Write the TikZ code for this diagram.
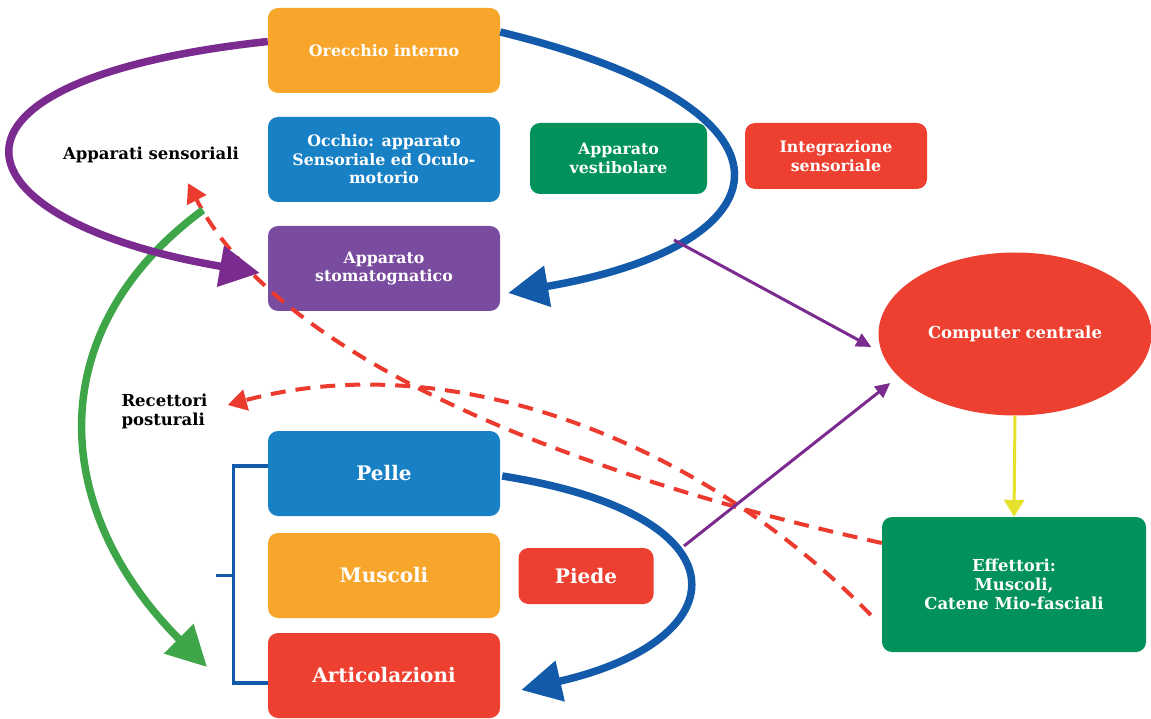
\documentclass[tikz,border=0pt]{standalone}
\usepackage{fontspec}
\setmainfont{DejaVu Serif}
\usetikzlibrary{arrows.meta,shapes.geometric}
\definecolor{cOrange}{HTML}{F8A62B}
\definecolor{cBlue}{HTML}{1880C5}
\definecolor{cPurpleBox}{HTML}{7A4C9F}
\definecolor{cGreen}{HTML}{00925A}
\definecolor{cRed}{HTML}{EE4031}
\definecolor{aPurple}{HTML}{7B2B8F}
\definecolor{aBlue}{HTML}{135BAA}
\definecolor{aGreen}{HTML}{3EA648}
\definecolor{aYellow}{HTML}{E6E22C}
\definecolor{aRed}{HTML}{EC3B2E}
\begin{document}
\begin{tikzpicture}[x=1pt,y=-1pt,
  box/.style={rounded corners=10pt, minimum width=232pt, minimum height=85pt, text=white, align=center, inner sep=0pt, font=\fontsize{15.8}{18.5}\selectfont\bfseries},
  bigbox/.style={box, font=\fontsize{20}{23}\selectfont\bfseries},
  lbl/.style={text=black, align=left, inner sep=0pt, font=\fontsize{16.5}{19}\selectfont\bfseries},
  thickarrow/.style={line width=7.5pt, -{Triangle[length=40pt,width=40pt]}},
  thinarrow/.style={line width=3pt, -{Triangle[length=15pt,width=14pt]}},
  dasharrow/.style={line width=4pt, dash pattern=on 15pt off 10pt, aRed, -{Triangle[length=19pt,width=21pt]}},
  bracketline/.style={line width=3.3pt, aBlue},
]
\useasboundingbox (0,0) rectangle (1151,719);
% nodes
\node[box, fill=cOrange] (ore) at (384,50.5) {Orecchio interno};
\node[box, fill=cBlue] (occ) at (384,159.5) {Occhio: apparato\\Sensoriale ed Oculo-\\motorio};
\node[box, fill=cPurpleBox] (sto) at (384,268.5) {Apparato\\stomatognatico};
\node[box, fill=cGreen, minimum width=177pt, minimum height=71pt] (ves) at (618.5,158.5) {Apparato\\vestibolare};
\node[box, fill=cRed, minimum width=182pt, minimum height=66pt] (int) at (836,156) {Integrazione\\sensoriale};
\node[ellipse, fill=cRed, minimum width=273pt, minimum height=163pt, inner sep=0pt, text=white, font=\fontsize{16.5}{19}\selectfont\bfseries] (cc) at (1015,334) {Computer centrale};
\node[box, fill=cGreen, minimum width=264pt, minimum height=135pt, font=\fontsize{16.5}{18.8}\selectfont\bfseries] (eff) at (1014,584.5) {Effettori:\\Muscoli,\\Catene Mio-fasciali};
\node[bigbox, fill=cBlue] (pel) at (384,473.5) {Pelle};
\node[bigbox, fill=cOrange] (mus) at (384,575.5) {Muscoli};
\node[bigbox, fill=cRed] (art) at (384,675.5) {Articolazioni};
\node[bigbox, fill=cRed, minimum width=135pt, minimum height=56pt] (pie) at (586,576) {Piede};
\node[lbl] (aps) at (151,155) {Apparati sensoriali};
\node[lbl] (rec) at (164.5,411) {Recettori\\posturali};
% coordinates
\coordinate (g0) at (203,210);
\coordinate (g1) at (207,667);
\coordinate (p1) at (674,240);
\coordinate (p2) at (684,546);
% dashed
\draw[dasharrow] ([yshift=41.5pt]eff.west) .. controls (640,490) and (290,380) .. ([xshift=37pt,yshift=-20pt]aps.south);
\draw[dasharrow] ([xshift=-11pt,yshift=-30.5pt]eff.west) .. controls (700,440) and (450,345) .. ([xshift=20pt,yshift=6pt]rec.east);
% bracket
\draw[bracketline] ([yshift=7.5pt]pel.west) -- ++(-34,0) |- ([yshift=-7.5pt]art.west);
\draw[bracketline] ([xshift=-34pt]mus.west) -- ++(-18,0);
% thick arrows
\draw[thickarrow, aGreen] (g0) .. controls (40,330) and (50,510) .. (g1);
\draw[thickarrow, aPurple] ([yshift=9pt]ore.west) .. controls (-90,80) and (-50,220) .. ([xshift=-8pt,yshift=-4.5pt]sto.west);
\draw[thickarrow, aBlue] ([yshift=18.5pt]ore.east) .. controls (820,110) and (790,245) .. ([xshift=8pt,yshift=-24.5pt]sto.east);
\draw[thickarrow, aBlue] ([xshift=2pt,yshift=-2.5pt]pel.east) .. controls (750,515) and (740,640) .. ([xshift=21pt,yshift=-14.5pt]art.east);
% thin arrows
\draw[thinarrow, aPurple] (p1) -- ([xshift=-7pt,yshift=-13pt]cc.west);
\draw[thinarrow, aPurple] (p2) -- ([xshift=12pt,yshift=-49pt]cc.west);
\draw[thinarrow, aYellow, -{Triangle[length=17pt,width=20pt]}] (cc.south) -- (eff.north);
\end{tikzpicture}
\end{document}
